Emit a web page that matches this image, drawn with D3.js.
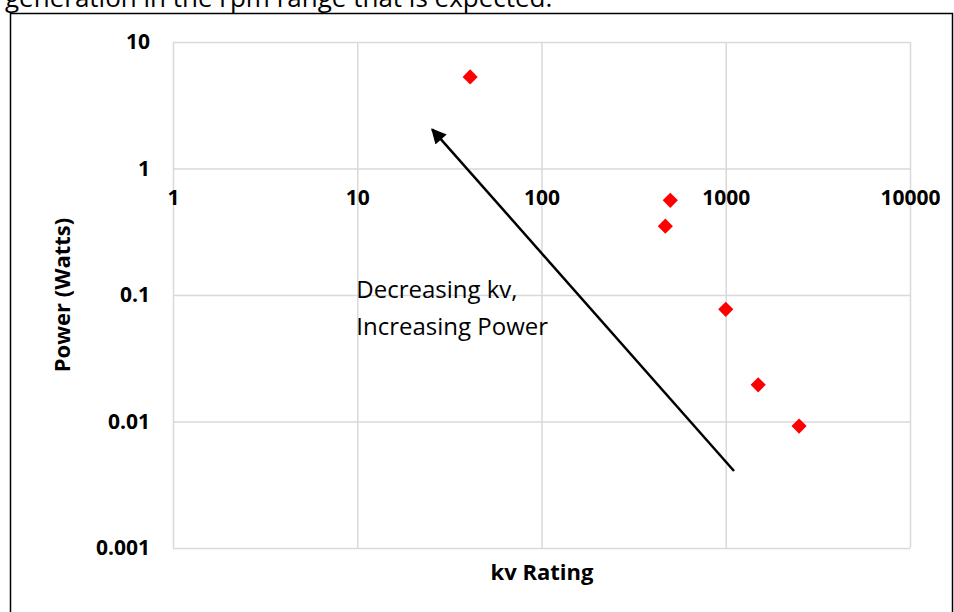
<!DOCTYPE html>
<html><head><meta charset="utf-8">
<script src="https://cdn.jsdelivr.net/npm/d3@7"></script>
<style>
html,body{margin:0;padding:0;background:#fff;}
svg{display:block;font-family:"Open Sans",Carlito,Lato,sans-serif;}
</style></head>
<body>
<svg id="chart" width="954" height="612"></svg>
<script>
// ---- data ----
const kvRating = [41, 500, 470, 1000, 1500, 2500];
const powerWatts = [5.3, 0.56, 0.35, 0.077, 0.0195, 0.0092];
const xTicks = [1, 10, 100, 1000, 10000];
const xTickLabels = ["1", "10", "100", "1000", "10000"];
const yTicks = [10, 1, 0.1, 0.01, 0.001];
const yTickLabels = ["10", "1", "0.1", "0.01", "0.001"];
const arrowFrom = [1109, 0.00406];
const arrowTo = [25.5, 2.04];
const annotationLines = ["Decreasing kv,", "Increasing Power"];
const xTitle = "kv Rating";
const yTitle = "Power (Watts)";
const headerText = "generation in the rpm range that is expected.";

// ---- layout ----
const FONT = '"Open Sans",Carlito,Lato,sans-serif';
const svg = d3.select("#chart");
const L = 173, R = 910, T = 42, B = 548;
const x = d3.scaleLog().domain([1, 10000]).range([L, R]);
const y = d3.scaleLog().domain([0.001, 10]).range([B, T]);

// header text (cut at top, as in the source)
svg.append("text").attr("x", 5).attr("y", 7)
  .attr("font-size", 26).attr("fill", "#000").text(headerText);

// outer box
svg.append("rect").attr("x", 10.5).attr("y", 13.5).attr("width", 942).attr("height", 610)
  .attr("fill", "none").attr("stroke", "#000").attr("stroke-width", 1.5);

// gridlines
const gx = svg.append("g").attr("transform", `translate(0,${B})`)
  .call(d3.axisBottom(x).tickValues(xTicks).tickSize(-(B - T)).tickFormat(""));
gx.select(".domain").remove();
gx.selectAll("line").attr("stroke", "#d9d9d9").attr("stroke-width", 1.5);

const gy = svg.append("g").attr("transform", `translate(${L},0)`)
  .call(d3.axisLeft(y).tickValues(yTicks).tickSize(-(R - L)).tickFormat(""));
gy.select(".domain").remove();
gy.selectAll("line").attr("stroke", "#d9d9d9").attr("stroke-width", 1.5);

// y tick labels
const yAxis = svg.append("g").attr("transform", `translate(${L},0)`)
  .call(d3.axisLeft(y).tickValues(yTicks).tickSize(0).tickPadding(23)
    .tickFormat((d, i) => yTickLabels[i]));
yAxis.select(".domain").remove();
yAxis.selectAll("text").attr("font-size", 21).attr("font-weight", "bold")
  .attr("fill", "#000").attr("font-family", FONT);

// x tick labels (axis crosses at y = 1)
const xAxis = svg.append("g").attr("transform", `translate(0,${y(1)})`)
  .call(d3.axisBottom(x).tickValues(xTicks).tickSize(0).tickPadding(22)
    .tickFormat((d, i) => xTickLabels[i]));
xAxis.select(".domain").remove();
xAxis.selectAll("text").attr("font-size", 21).attr("font-weight", "bold")
  .attr("fill", "#000").attr("font-family", FONT);

// axis titles
svg.append("text").attr("x", 542).attr("y", 580).attr("text-anchor", "middle")
  .attr("font-size", 22).attr("font-weight", "bold").text(xTitle);
svg.append("text").attr("transform", `translate(70,${(T + B) / 2}) rotate(-90)`)
  .attr("text-anchor", "middle").attr("font-size", 22).attr("font-weight", "bold").text(yTitle);

// arrow
svg.append("defs").append("marker").attr("id", "ah")
  .attr("viewBox", "0 0 10 10").attr("refX", 9).attr("refY", 5)
  .attr("markerWidth", 7).attr("markerHeight", 6).attr("markerUnits", "strokeWidth")
  .attr("orient", "auto")
  .append("path").attr("d", "M0,0 L10,5 L0,10 z").attr("fill", "#000");
svg.append("line")
  .attr("x1", x(arrowFrom[0])).attr("y1", y(arrowFrom[1]))
  .attr("x2", x(arrowTo[0])).attr("y2", y(arrowTo[1]))
  .attr("stroke", "#000").attr("stroke-width", 2.5).attr("marker-end", "url(#ah)");

// annotation
const ann = svg.append("text").attr("font-size", 24).attr("fill", "#000");
annotationLines.forEach((t, i) => {
  ann.append("tspan").attr("x", x(10) - 1).attr("y", 298 + i * 37).text(t);
});

// points (diamonds)
svg.append("g").selectAll("path").data(kvRating.map((k, i) => [k, powerWatts[i]]))
  .join("path")
  .attr("transform", d => `translate(${x(d[0])},${y(d[1])}) rotate(45)`)
  .attr("d", d3.symbol().type(d3.symbolSquare).size(115))
  .attr("fill", "#ff0000");
</script>
</body></html>
